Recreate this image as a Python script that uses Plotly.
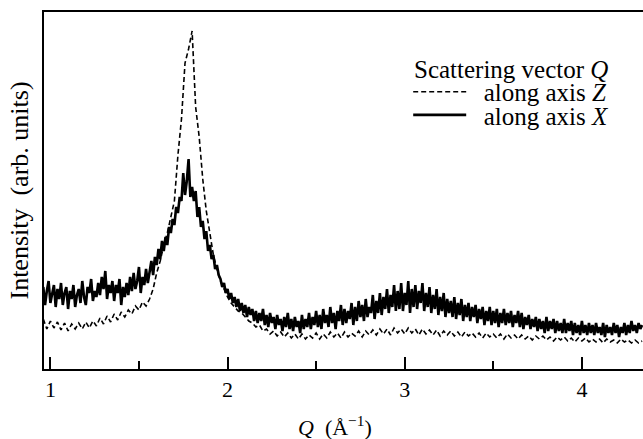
import plotly.graph_objects as go

# ---- data ----
# Solid curve (along axis X): Q grid start/step, intensity in arb. units
qx_start, qx_step = 0.96, 0.01
I_X = [
    82, 64, 78, 88, 66, 74, 84, 62, 80, 70,
    86, 64, 76, 82, 60, 78, 70, 84, 62, 74,
    80, 66, 88, 72, 64, 82, 76, 90, 68, 78,
    72, 86, 74, 92, 80, 98, 70, 84, 76, 88,
    68, 84, 76, 90, 64, 82, 72, 86, 74, 92,
    78, 96, 80, 88, 102, 76, 92, 84, 100, 86,
    98, 108, 94, 112, 104, 120, 110, 128, 118, 132,
    124, 142, 136, 150, 144, 162, 156, 172, 168, 196,
    174, 188, 210, 172, 182, 168, 178, 152, 162, 142,
    148, 130, 138, 118, 124, 110, 114, 100, 104, 94,
    90, 82, 86, 76, 80, 70, 76, 66, 72, 62,
    70, 58, 66, 56, 64, 52, 62, 54, 60, 48,
    58, 46, 56, 48, 60, 44, 54, 42, 56, 46,
    52, 40, 54, 44, 50, 38, 52, 42, 56, 40,
    50, 38, 52, 42, 48, 36, 54, 40, 50, 42,
    56, 40, 52, 44, 58, 42, 54, 40, 60, 46,
    54, 42, 62, 46, 56, 40, 58, 48, 64, 44,
    60, 46, 58, 50, 66, 44, 62, 48, 68, 52,
    64, 48, 70, 52, 62, 56, 74, 50, 68, 56,
    76, 54, 72, 60, 80, 56, 74, 62, 84, 58,
    78, 60, 86, 58, 76, 64, 88, 56, 80, 62,
    84, 60, 78, 66, 86, 58, 76, 62, 82, 56,
    74, 60, 80, 54, 72, 58, 76, 52, 70, 56,
    68, 52, 72, 50, 66, 54, 70, 48, 64, 52,
    66, 48, 62, 52, 64, 46, 60, 50, 62, 44,
    58, 48, 62, 44, 58, 46, 60, 42, 56, 46,
    60, 44, 56, 46, 58, 42, 54, 46, 58, 42,
    56, 40, 52, 44, 54, 40, 50, 42, 52, 38,
    50, 40, 48, 36, 52, 38, 48, 40, 50, 36,
    48, 38, 46, 36, 50, 36, 46, 38, 48, 34,
    46, 36, 44, 34, 48, 36, 44, 34, 46, 36,
    44, 34, 46, 36, 42, 34, 46, 32, 44, 36,
    42, 34, 46, 36, 44, 32, 42, 36, 46, 34,
    44, 36, 48, 38, 44, 36, 46, 40, 44,
]
Q_X = [round(qx_start + qx_step * i, 2) for i in range(len(I_X))]

# Dashed curve (along axis Z)
qz_start, qz_step = 0.96, 0.02
I_Z = [
    50, 40, 48, 41, 47, 39, 46, 38, 45, 40,
    46, 40, 47, 41, 48, 43, 51, 45, 53, 47,
    55, 49, 57, 52, 59, 55, 63, 59, 67, 63,
    70, 80, 96, 108, 124, 136, 152, 168, 214, 250,
    306, 320, 338, 262, 232, 190, 158, 136, 114, 100,
    88, 80, 72, 66, 62, 58, 56, 52, 48, 46,
    42, 44, 38, 40, 35, 38, 33, 37, 32, 36,
    31, 35, 30, 35, 30, 34, 31, 36, 30, 35,
    31, 37, 32, 36, 31, 37, 32, 36, 33, 38,
    32, 38, 34, 39, 34, 40, 35, 40, 34, 41,
    36, 40, 35, 41, 36, 40, 34, 40, 35, 39,
    34, 39, 33, 38, 34, 38, 33, 37, 32, 37,
    33, 36, 32, 36, 31, 36, 32, 35, 31, 35,
    30, 35, 31, 34, 30, 34, 30, 33, 29, 33,
    30, 33, 29, 32, 28, 32, 29, 32, 28, 31,
    27, 31, 28, 31, 27, 30, 27, 30, 26, 30,
    27, 29, 26, 30, 27, 29, 26, 29, 26, 28,
]
Q_Z = [round(qz_start + qz_step * i, 2) for i in range(len(I_Z))]

x_tick_vals = [1, 2, 3, 4]
x_tick_text = ["1", "2", "3", "4"]
x_minor_vals = [1.5, 2.5, 3.5]

legend_title = "Scattering vector <i>Q</i>"
name_Z = "\u00a0\u00a0along axis <i>Z</i>"
name_X = "\u00a0\u00a0along axis <i>X</i>"

FONT = "Liberation Serif"
LEG_SIZE = 25

fig = go.Figure()
fig.add_trace(go.Scatter(
    x=Q_Z, y=I_Z, mode="lines", name=name_Z, legend="legend",
    line=dict(color="black", width=1.6, dash="5px,3px"),
))
fig.add_trace(go.Scatter(
    x=Q_X, y=I_X, mode="lines", name=name_X, legend="legend2",
    line=dict(color="black", width=2.6),
))

# legend heading
fig.add_annotation(
    text=legend_title, xref="paper", yref="paper",
    x=0.614, y=0.840, xanchor="left", yanchor="middle",
    showarrow=False, font=dict(family=FONT, size=LEG_SIZE, color="black"),
)
# x-axis title
fig.add_annotation(
    text="<i>Q</i>  (Å<sup>−1</sup>)", xref="paper", yref="paper",
    x=0.486, y=-0.16, xanchor="center", yanchor="middle",
    showarrow=False, font=dict(family=FONT, size=22, color="black"),
)

leg_common = dict(
    xanchor="left", yanchor="middle", bgcolor="rgba(0,0,0,0)",
    borderwidth=0, font=dict(family=FONT, size=LEG_SIZE, color="black"),
    itemwidth=53,
)

fig.update_layout(
    width=643, height=439,
    margin=dict(l=44, r=0, t=12, b=70),
    paper_bgcolor="white", plot_bgcolor="white",
    font=dict(family=FONT, size=20, color="black"),
    showlegend=True,
    legend=dict(x=0.608, y=0.776, **leg_common),
    legend2=dict(x=0.608, y=0.711, **leg_common),
    xaxis=dict(
        range=[0.964, 4.345], showgrid=False, zeroline=False,
        showline=True, linecolor="black", linewidth=2, mirror=True,
        ticks="inside", ticklen=12, tickwidth=1.5, tickcolor="black",
        tickvals=x_tick_vals, ticktext=x_tick_text,
        tickfont=dict(family=FONT, size=22),
        minor=dict(tickvals=x_minor_vals, ticks="inside", ticklen=8,
                   tickwidth=1.5, tickcolor="black"),
    ),
    yaxis=dict(
        range=[0, 357], showgrid=False, zeroline=False,
        showline=True, linecolor="black", linewidth=2,
        ticks="", showticklabels=False,
        title=dict(text="Intensity  (arb. units)", standoff=6,
                   font=dict(family=FONT, size=26)),
    ),
)

fig.write_html("out.html")
